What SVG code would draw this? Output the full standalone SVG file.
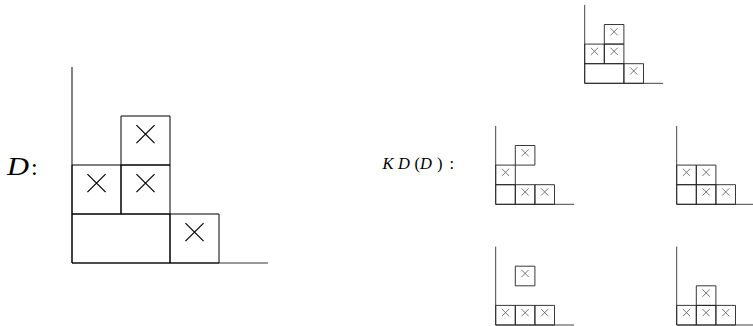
<svg xmlns="http://www.w3.org/2000/svg" width="753" height="326" viewBox="0 0 753 326">
  <style>
    .axis { fill: none; stroke: #333; stroke-width: 1.2; vector-effect: non-scaling-stroke; }
    .box { fill: none; stroke: #000; stroke-width: 1; vector-effect: non-scaling-stroke; }
    .mark { fill: none; stroke: #000; stroke-width: 1.2; vector-effect: non-scaling-stroke; }
    .sm .axis { stroke: #444; stroke-width: 1; }
    .sm .box { stroke: #222; stroke-width: 0.9; }
    .sm .mark { stroke: #555; stroke-width: 0.8; }
    .lbl { font-family: "Liberation Serif", "DejaVu Serif", serif; fill: #000; }
  </style>

  <!-- Diagrams are drawn in cell units: origin at the corner of the axes, one unit per cell, rows going up. -->

  <!-- large diagram D -->
  <g id="label-D">
    <text class="lbl" x="7" y="175" font-size="25" font-style="italic" textLength="22" lengthAdjust="spacingAndGlyphs">D</text>
    <text class="lbl" x="31" y="175" font-size="24">:</text>
  </g>
  <g id="diagram-D" transform="translate(72 263) scale(49)">
    <path class="axis" d="M0 0V-4M0 0H4"/>
    <rect class="box" x="1" y="-3" width="1" height="1"/>
    <rect class="box" x="0" y="-2" width="1" height="1"/>
    <rect class="box" x="1" y="-2" width="1" height="1"/>
    <rect class="box" x="0" y="-1" width="2" height="1"/>
    <rect class="box" x="2" y="-1" width="1" height="1"/>
    <path class="mark" d="M1.315 -2.815l0.37 0.37m0 -0.37l-0.37 0.37
                          M0.315 -1.815l0.37 0.37m0 -0.37l-0.37 0.37
                          M1.315 -1.815l0.37 0.37m0 -0.37l-0.37 0.37
                          M2.315 -0.815l0.37 0.37m0 -0.37l-0.37 0.37"/>
  </g>

  <!-- small copy of D -->
  <g id="diagram-D-small" class="sm" transform="translate(584.7 83.3) scale(19.6)">
    <path class="axis" d="M0 0V-4M0 0H4"/>
    <rect class="box" x="1" y="-3" width="1" height="1"/>
    <rect class="box" x="0" y="-2" width="1" height="1"/>
    <rect class="box" x="1" y="-2" width="1" height="1"/>
    <rect class="box" x="0" y="-1" width="2" height="1"/>
    <rect class="box" x="2" y="-1" width="1" height="1"/>
    <path class="mark" d="M1.315 -2.815l0.37 0.37m0 -0.37l-0.37 0.37
                          M0.315 -1.815l0.37 0.37m0 -0.37l-0.37 0.37
                          M1.315 -1.815l0.37 0.37m0 -0.37l-0.37 0.37
                          M2.315 -0.815l0.37 0.37m0 -0.37l-0.37 0.37"/>
  </g>

  <g id="label-KD">
    <text class="lbl" y="168.5" font-size="16.5"><tspan x="382.5" font-style="italic">K</tspan><tspan x="398" font-style="italic">D</tspan><tspan x="414.5">(</tspan><tspan x="420" font-style="italic">D</tspan><tspan x="437">)</tspan><tspan x="449.5">:</tspan></text>
  </g>

  <!-- KD(D), first -->
  <g id="kd-1" class="sm" transform="translate(495.7 204.3) scale(19.6)">
    <path class="axis" d="M0 0V-4M0 0H4"/>
    <rect class="box" x="0" y="-1" width="1" height="1"/>
    <rect class="box" x="1" y="-1" width="1" height="1"/>
    <rect class="box" x="2" y="-1" width="1" height="1"/>
    <rect class="box" x="0" y="-2" width="1" height="1"/>
    <rect class="box" x="1" y="-3" width="1" height="1"/>
    <path class="mark" d="M1.315 -0.815l0.37 0.37m0 -0.37l-0.37 0.37
                          M2.315 -0.815l0.37 0.37m0 -0.37l-0.37 0.37
                          M0.315 -1.815l0.37 0.37m0 -0.37l-0.37 0.37
                          M1.315 -2.815l0.37 0.37m0 -0.37l-0.37 0.37"/>
  </g>

  <!-- KD(D), second -->
  <g id="kd-2" class="sm" transform="translate(676.7 204.3) scale(19.6)">
    <path class="axis" d="M0 0V-4M0 0H4"/>
    <rect class="box" x="0" y="-1" width="1" height="1"/>
    <rect class="box" x="1" y="-1" width="1" height="1"/>
    <rect class="box" x="2" y="-1" width="1" height="1"/>
    <rect class="box" x="0" y="-2" width="1" height="1"/>
    <rect class="box" x="1" y="-2" width="1" height="1"/>
    <path class="mark" d="M1.315 -0.815l0.37 0.37m0 -0.37l-0.37 0.37
                          M2.315 -0.815l0.37 0.37m0 -0.37l-0.37 0.37
                          M0.315 -1.815l0.37 0.37m0 -0.37l-0.37 0.37
                          M1.315 -1.815l0.37 0.37m0 -0.37l-0.37 0.37"/>
  </g>

  <!-- KD(D), third -->
  <g id="kd-3" class="sm" transform="translate(495.7 325) scale(19.6)">
    <path class="axis" d="M0 0V-4M0 0H4"/>
    <rect class="box" x="0" y="-1" width="1" height="1"/>
    <rect class="box" x="1" y="-1" width="1" height="1"/>
    <rect class="box" x="2" y="-1" width="1" height="1"/>
    <rect class="box" x="1" y="-3" width="1" height="1"/>
    <path class="mark" d="M0.315 -0.815l0.37 0.37m0 -0.37l-0.37 0.37
                          M1.315 -0.815l0.37 0.37m0 -0.37l-0.37 0.37
                          M2.315 -0.815l0.37 0.37m0 -0.37l-0.37 0.37
                          M1.315 -2.815l0.37 0.37m0 -0.37l-0.37 0.37"/>
  </g>

  <!-- KD(D), fourth -->
  <g id="kd-4" class="sm" transform="translate(676.7 325) scale(19.6)">
    <path class="axis" d="M0 0V-4M0 0H4"/>
    <rect class="box" x="0" y="-1" width="1" height="1"/>
    <rect class="box" x="1" y="-1" width="1" height="1"/>
    <rect class="box" x="2" y="-1" width="1" height="1"/>
    <rect class="box" x="1" y="-2" width="1" height="1"/>
    <path class="mark" d="M0.315 -0.815l0.37 0.37m0 -0.37l-0.37 0.37
                          M1.315 -0.815l0.37 0.37m0 -0.37l-0.37 0.37
                          M2.315 -0.815l0.37 0.37m0 -0.37l-0.37 0.37
                          M1.315 -1.815l0.37 0.37m0 -0.37l-0.37 0.37"/>
  </g>
</svg>
